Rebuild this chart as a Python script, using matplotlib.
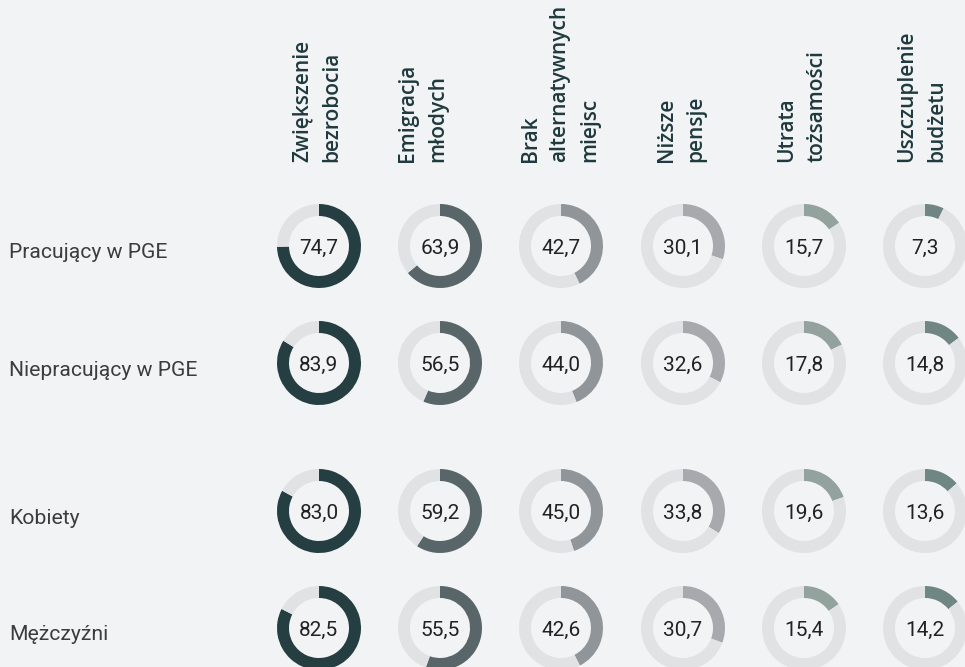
import matplotlib.pyplot as plt

# --- Data (percent of answers) ---
factors = ["Zwiększenie\nbezrobocia", "Emigracja\nmłodych",
           "Brak\nalternatywnych\nmiejsc", "Niższe\npensje",
           "Utrata\ntożsamości", "Uszczuplenie\nbudżetu"]
groups = ["Pracujący w PGE", "Niepracujący w PGE", "Kobiety", "Mężczyźni"]

pracujacy = [74.7, 63.9, 42.7, 30.1, 15.7, 7.3]
niepracujacy = [83.9, 56.5, 44.0, 32.6, 17.8, 14.8]
kobiety = [83.0, 59.2, 45.0, 33.8, 19.6, 13.6]
mezczyzni = [82.5, 55.5, 42.6, 30.7, 15.4, 14.2]

# --- Style / layout (pixel grid of the 965x667 figure) ---
W, H = 965, 667
BG = "#f2f3f5"
TRACK = "#e1e2e4"
col_colors = ["#243e42", "#58666a", "#8f9599", "#a7a9ad", "#93a29d", "#6f8682"]
col_x = [319, 440, 561, 683, 804, 925]
row_y = [246, 363, 511, 628]
header_x = [317, 423, 560, 681, 802, 922]
header_bottom = 162
line_pitch = 30
R_OUT, RING = 42, 12

fig = plt.figure(figsize=(W / 100, H / 100), dpi=100, facecolor=BG)
ax = fig.add_axes([0, 0, 1, 1])
ax.set_facecolor(BG)

rows = [pracujacy, niepracujacy, kobiety, mezczyzni]

for r, (label, values) in enumerate(zip(groups, rows)):
    cy = H - row_y[r]
    ax.text(9, cy - 12.5, label, ha="left", va="baseline", fontsize=15.2,
            family="Roboto", color="#3c3c3c")
    for c, v in enumerate(values):
        cx = col_x[c]
        ax.pie([v, 100 - v], center=(cx, cy), radius=R_OUT, startangle=90,
               counterclock=False, colors=[col_colors[c], TRACK],
               wedgeprops=dict(width=RING, linewidth=0))
        txt = f"{v:.1f}".replace(".", ",")
        ax.text(cx, cy - 7.5, txt, ha="center", va="baseline", fontsize=15,
                family="Roboto", color="#222222")

# column headers, rotated, one text per line
for c, name in enumerate(factors):
    lines = name.split("\n")
    n = len(lines)
    for i, line in enumerate(lines):
        x = header_x[c] + (i - (n - 1) / 2) * line_pitch
        ax.text(x, H - header_bottom, line, rotation=90, ha="center", va="bottom",
                fontsize=15, family="Open Sans", fontweight="semibold",
                color="#1f3a3e")

ax.set_xlim(0, W)
ax.set_ylim(0, H)
ax.set_aspect("equal")
ax.axis("off")

fig.savefig("out.png", dpi=100, facecolor=BG)
